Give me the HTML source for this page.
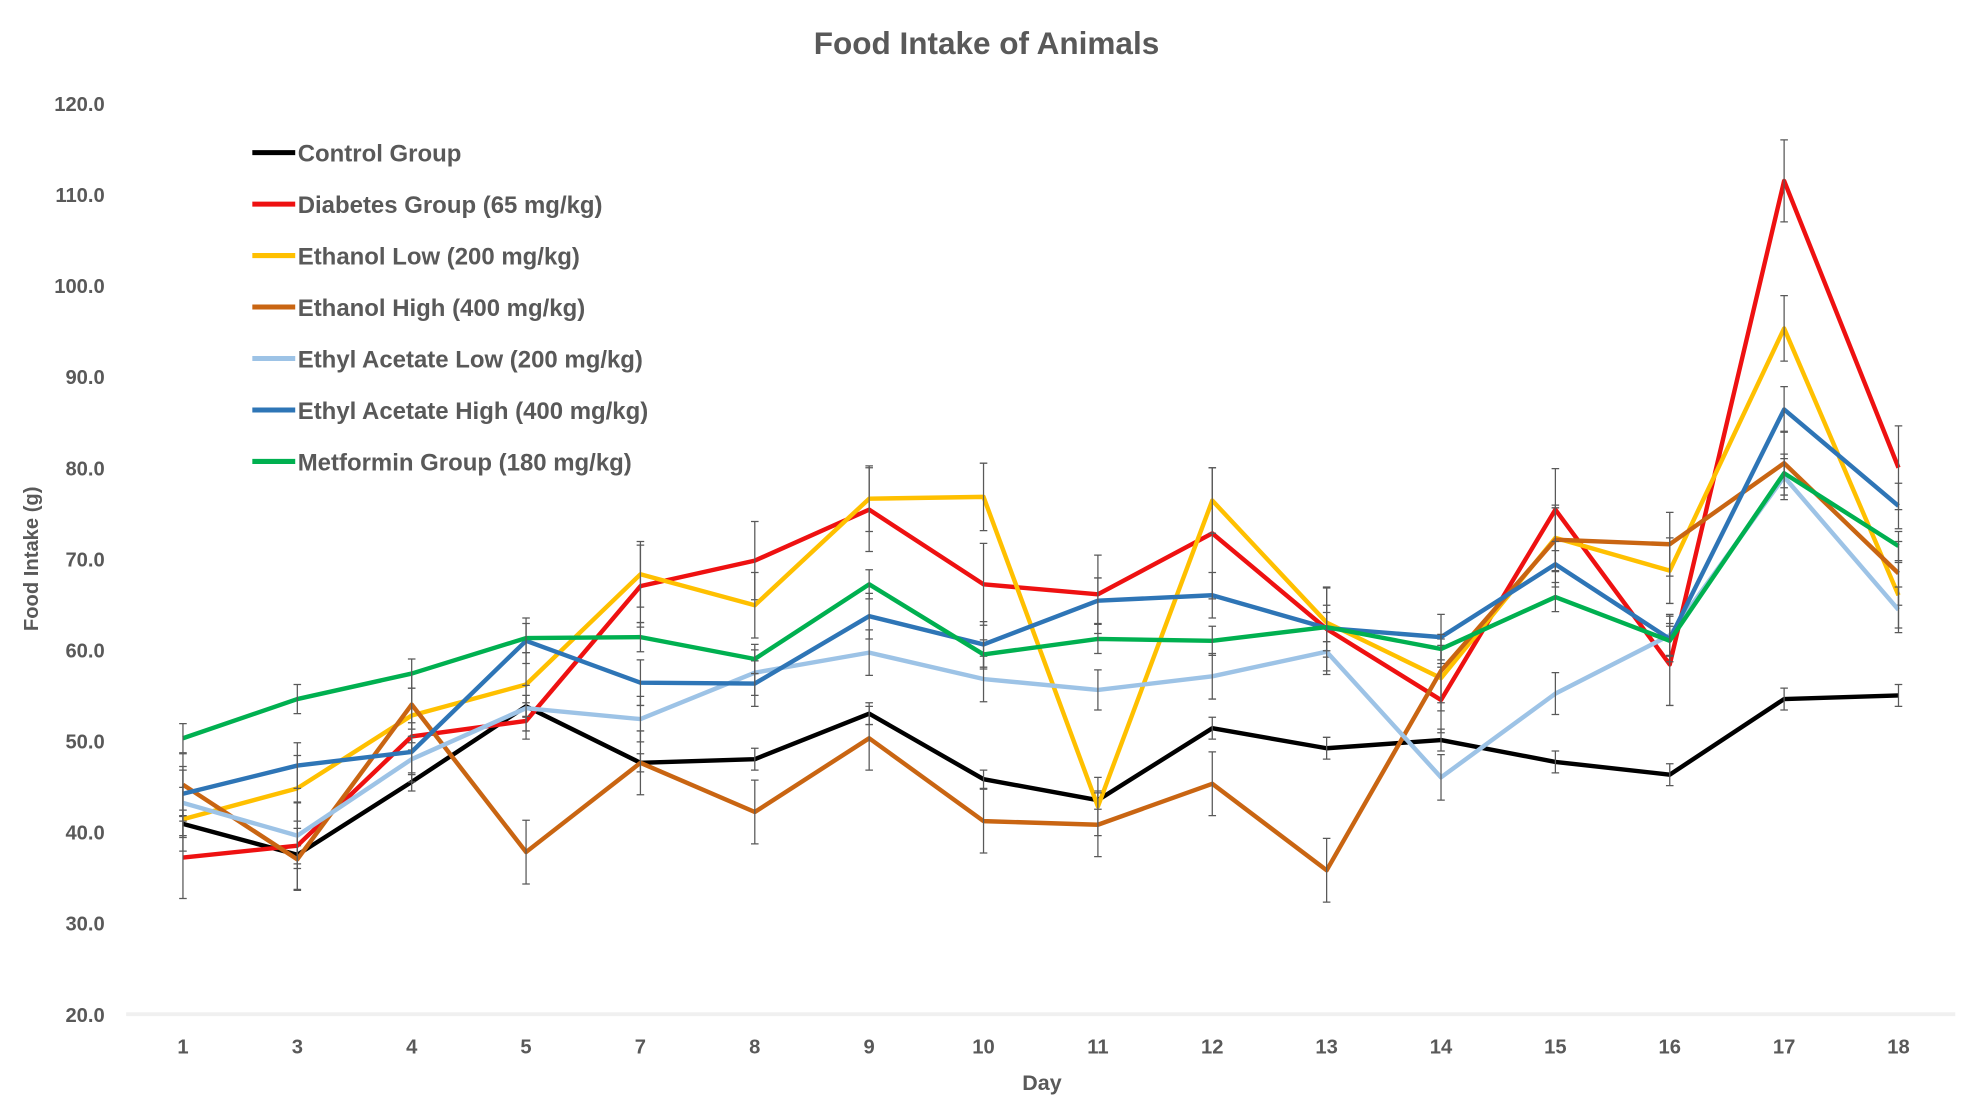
<!DOCTYPE html>
<html><head><meta charset="utf-8"><style>
html,body{margin:0;padding:0;background:#fff;}
svg{display:block;font-family:"Liberation Sans",sans-serif;}
</style></head><body>
<svg id="chart" width="1978" height="1118" viewBox="0 0 1568 886.3" xmlns="http://www.w3.org/2000/svg">
<text x="782" y="43" text-anchor="middle" font-size="25" font-weight="bold" fill="#595959">Food Intake of Animals</text>
<text transform="translate(30,443) rotate(-90)" text-anchor="middle" font-size="16" font-weight="bold" fill="#595959">Food Intake (g)</text>
<text x="826" y="864" text-anchor="middle" font-size="17" font-weight="bold" fill="#595959">Day</text>
<g id="axes"></g><g id="series"></g><g id="legend"></g>
</svg>
<script>
const days = ["1","3","4","5","7","8","9","10","11","12","13","14","15","16","17","18"];
const yTicks = [20,30,40,50,60,70,80,90,100,110,120];
const seriesNames = ["Control Group","Diabetes Group (65 mg/kg)","Ethanol Low (200 mg/kg)","Ethanol High (400 mg/kg)","Ethyl Acetate Low (200 mg/kg)","Ethyl Acetate High (400 mg/kg)","Metformin Group (180 mg/kg)"];
const controlVals = [40.9,37.5,45.5,53.8,47.6,48.0,53.0,45.8,43.5,51.4,49.2,50.1,47.7,46.3,54.6,55.0];
const diabetesVals = [37.2,38.5,50.5,52.2,67.0,69.8,75.4,67.2,66.1,72.8,62.3,54.5,75.4,58.4,111.5,80.0];
const ethanolLowVals = [41.4,44.8,52.8,56.2,68.3,64.9,76.6,76.8,42.8,76.4,63.0,56.9,72.3,68.7,95.3,66.0];
const ethanolHighVals = [45.2,37.0,54.0,37.8,47.6,42.2,50.3,41.2,40.8,45.3,35.8,57.7,72.1,71.6,80.5,68.4];
const eaLowVals = [43.2,39.6,48.0,53.6,52.4,57.5,59.7,56.8,55.6,57.1,59.8,46.0,55.2,61.6,79.0,64.4];
const eaHighVals = [44.2,47.3,48.8,61.0,56.4,56.3,63.7,60.6,65.4,66.0,62.4,61.4,69.4,61.2,86.4,75.8];
const metforminVals = [50.3,54.6,57.4,61.3,61.4,59.0,67.2,59.5,61.2,61.0,62.5,60.1,65.8,61.0,79.4,71.4];
const controlErr = [1.5,1.0,1.0,1.2,1.0,1.2,1.2,1.0,1.0,1.2,1.2,1.2,1.2,1.2,1.2,1.2];
const diabetesErr = [4.5,4.8,1.5,2.0,4.5,4.3,4.6,4.5,4.3,7.2,4.6,3.6,4.5,4.5,4.5,4.6];
const ethanolLowErr = [3.5,3.6,3.0,3.5,3.6,3.6,3.6,3.7,3.2,3.6,3.8,3.6,3.6,3.6,3.6,3.6];
const ethanolHighErr = [3.4,3.4,3.5,3.5,3.5,3.5,3.5,3.5,3.5,3.5,3.5,3.5,3.5,3.5,3.5,3.5];
const eaLowErr = [3.6,3.6,2.5,2.5,2.5,2.5,2.5,2.5,2.2,2.5,2.5,2.5,2.3,2.3,2.5,2.5];
const eaHighErr = [3.0,2.5,2.5,2.5,2.5,2.5,2.5,2.5,2.5,2.5,2.5,2.5,2.5,2.5,2.5,2.5];
const metforminErr = [1.6,1.6,1.6,1.6,1.6,1.6,1.6,1.6,1.6,1.6,1.6,1.6,1.6,1.6,1.6,1.6];
const seriesVals = [controlVals,diabetesVals,ethanolLowVals,ethanolHighVals,eaLowVals,eaHighVals,metforminVals];
const seriesErr = [controlErr,diabetesErr,ethanolLowErr,ethanolHighErr,eaLowErr,eaHighErr,metforminErr];
const colors = ["#000000","#ee1111","#ffc000","#c96512","#9dc3e6","#2e75b6","#00b050"];
const NS="http://www.w3.org/2000/svg";
function x(i){return 145+i*(1505-145)/(days.length-1);}
function y(v){return 804-(v-20)*(804-82)/100;}
function mk(tag,attrs,parent){const e=document.createElementNS(NS,tag);for(const k in attrs)e.setAttribute(k,attrs[k]);parent.appendChild(e);return e;}
const axes=document.getElementById('axes');
const grid=mk('line',{x1:100,x2:1550,y1:y(20),y2:y(20),stroke:'#f0f0f0','stroke-width':3},axes);


yTicks.forEach(t=>{const e=mk('text',{x:83,y:y(t)+6,'text-anchor':'end','font-size':16,'font-weight':'bold',fill:'#595959'},axes);e.textContent=t.toFixed(1);

});
days.forEach((d,i)=>{const e=mk('text',{x:x(i),y:835,'text-anchor':'middle','font-size':16,'font-weight':'bold',fill:'#595959'},axes);e.textContent=d;

});
const sg=document.getElementById('series');
seriesVals.forEach((vals,s)=>{
  const g=mk('g',{},sg);
  
  
  const pts=vals.map((v,i)=>x(i)+','+y(v)).join(' ');
  const pl=mk('polyline',{points:pts,fill:'none',stroke:colors[s],'stroke-width':3.5,'stroke-linejoin':'round'},g);
  
  
  vals.forEach((v,i)=>{const e=seriesErr[s][i];const xx=x(i);
    const eb=mk('path',{d:`M${xx},${y(v+e)}V${y(v-e)}M${xx-3},${y(v+e)}H${xx+3}M${xx-3},${y(v-e)}H${xx+3}`,stroke:'#595959','stroke-width':1,fill:'none'},g);
    
    
  });
});
const lg=document.getElementById('legend');
seriesNames.forEach((n,s)=>{const yy=121+s*40.8;
  const g=mk('g',{},lg);
  
  
  mk('line',{x1:200,x2:234,y1:yy,y2:yy,stroke:colors[s],'stroke-width':4},g);
  const t=mk('text',{x:236,y:yy+7,'font-size':19,'font-weight':'bold',fill:'#595959'},g);t.textContent=n;
});
</script>
</body></html>
